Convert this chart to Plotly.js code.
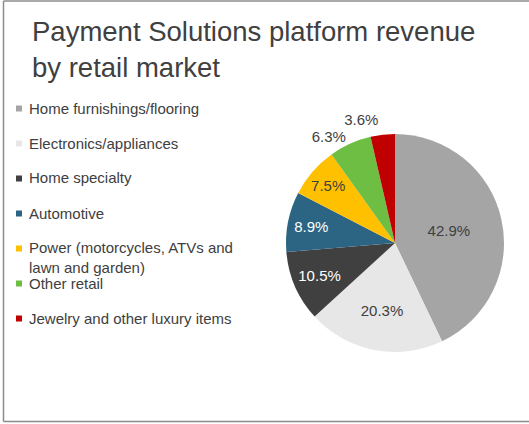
<!DOCTYPE html>
<html>
<head>
<meta charset="utf-8">
<script src="https://cdn.plot.ly/plotly-3.0.1.min.js"></script>
<style>html,body{margin:0;padding:0;background:#fff;}#chart{width:529px;height:424px;}</style>
</head>
<body>
<div id="chart"></div>
<script>
// ---- data ----
const titleText = 'Payment Solutions platform revenue<br>by retail market';
const categories = [
  'Home furnishings/flooring',
  'Electronics/appliances',
  'Home specialty',
  'Automotive',
  'Power (motorcycles, ATVs and\nlawn and garden)',
  'Other retail',
  'Jewelry and other luxury items'
];
const shares = [42.9, 20.3, 10.5, 8.9, 7.5, 6.3, 3.6];
const sliceColors = ['#A5A5A5', '#E7E7E7', '#404040', '#2C6583', '#FFC000', '#6EBE44', '#C00000'];
const labelColors = ['#404040', '#404040', '#FFFFFF', '#FFFFFF', '#404040', '#404040', '#404040'];
const labelPositions = ['inside', 'inside', 'inside', 'inside', 'inside', 'outside', 'outside'];

// ---- layout helpers ----
const W = 529, H = 424;
const px = x => x / W;
const py = y => 1 - y / H;
const FONT = 'Liberation Sans, Arial, sans-serif';
const TXT = '#404040';

const trace = {
  type: 'pie',
  labels: categories.map(c => c.replace('\n', ' ')),
  values: shares,
  sort: false,
  direction: 'clockwise',
  rotation: 0,
  marker: {colors: sliceColors, line: {width: 0}},
  texttemplate: '%{value:.1f}%',
  textposition: labelPositions,
  insidetextorientation: 'horizontal',
  textfont: {family: FONT, size: 15, color: labelColors},
  outsidetextfont: {family: FONT, size: 15, color: TXT},
  hoverinfo: 'label+value',
  showlegend: false,
  domain: {x: [px(286), px(504)], y: [py(352), py(134)]}
};

// custom legend (text + square markers) built from the arrays
const annotations = [];
const shapes = [];
categories.forEach((c, i) => {
  const yc = 108 + 35 * i;
  const lines = c.split('\n');
  annotations.push({
    xref: 'paper', yref: 'paper',
    x: px(26.5), y: py(yc - 9.75 + 9.75 * lines.length),
    xanchor: 'left', yanchor: 'middle', align: 'left',
    text: lines.join('<br>'), showarrow: false,
    font: {family: FONT, size: 15, color: TXT}
  });
  shapes.push({
    type: 'rect', xref: 'paper', yref: 'paper',
    x0: px(16), x1: px(22), y0: py(yc + 3.5), y1: py(yc - 2.5),
    fillcolor: sliceColors[i], line: {width: 0}
  });
});
// outer frame (left, top, bottom edges; right edge is outside the picture)
const frame = {color: '#8C8C8C', width: 1.5};
shapes.push(
  {type: 'line', xref: 'paper', yref: 'paper', x0: px(3.5), x1: px(3.5), y0: py(421.5), y1: py(1), line: frame},
  {type: 'line', xref: 'paper', yref: 'paper', x0: px(3.5), x1: 1, y0: py(1), y1: py(1), line: frame},
  {type: 'line', xref: 'paper', yref: 'paper', x0: px(3.5), x1: 1, y0: py(421.5), y1: py(421.5), line: frame}
);

const layout = {
  width: W, height: H,
  margin: {l: 0, r: 0, t: 0, b: 0},
  paper_bgcolor: '#FFFFFF',
  title: {
    text: titleText,
    x: px(32), xanchor: 'left', xref: 'paper',
    y: 1 - 41 / H, yanchor: 'top', yref: 'container',
    font: {family: FONT, size: 27.5, color: TXT}
  },
  annotations: annotations,
  shapes: shapes
};

Plotly.newPlot('chart', [trace], layout, {displayModeBar: false, staticPlot: true}).then(gd => {
  // the reference shows no leader lines for the outside labels
  gd.querySelectorAll('path.textline').forEach(p => p.style.display = 'none');
});
</script>
</body>
</html>
